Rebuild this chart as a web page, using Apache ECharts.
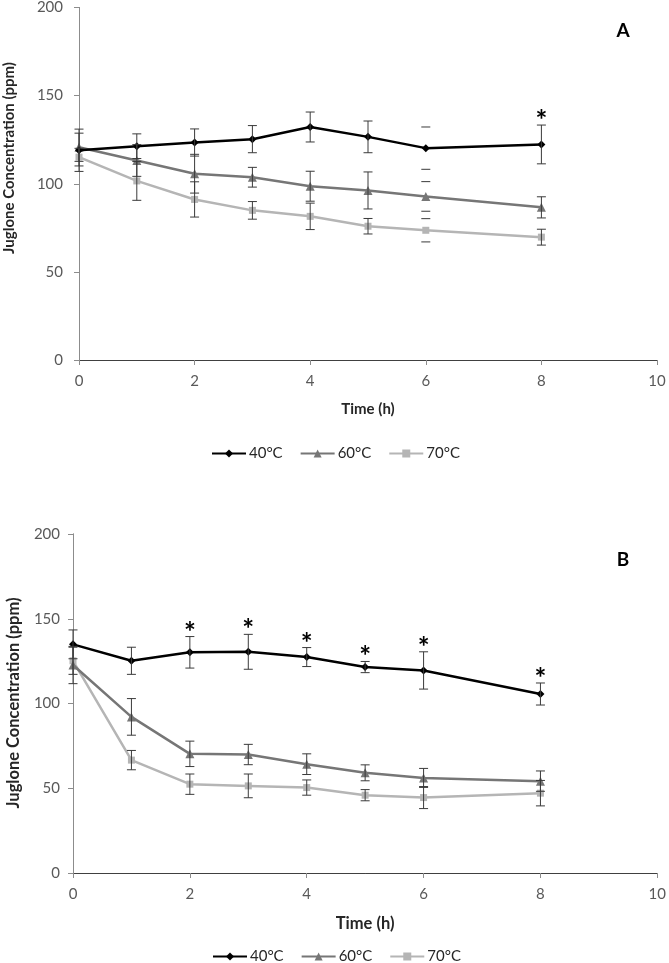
<!DOCTYPE html>
<html>
<head>
<meta charset="utf-8">
<script src="https://cdn.jsdelivr.net/npm/echarts@6/dist/echarts.min.js"></script>
<style>
html,body{margin:0;padding:0;background:#fff;}
#chart{width:669px;height:963px;}
</style>
</head>
<body>
<div id="chart"></div>
<script>
// ---- data ----
const times = [0, 1, 2, 3, 4, 5, 6, 8];
const seriesNames = ['40°C', '60°C', '70°C'];

// Panel A
const a40 = [119, 121.3, 123.4, 125.3, 132.2, 126.6, 120.2, 122.3];
const a40Err = [12, 7, 7.7, 7.7, 8.5, 9, 12, 11];
const a60 = [120.7, 113.2, 105.7, 103.7, 98.6, 96.2, 92.8, 86.6];
const a60Err = [8, 9, 11, 5.6, 8.5, 10.5, 8.4, 6];
const a70 = [115.1, 101.6, 91.1, 84.9, 81.5, 75.9, 73.6, 69.7];
const a70Err = [5, 11, 10, 5, 7.5, 4.4, 6.6, 4.5];
const aStarTimes = [8];
const aCapOnlyTimes = [6];

// Panel B
const b40 = [134.9, 125.2, 130.2, 130.5, 127.4, 121.5, 119.5, 105.6];
const b40Err = [8.5, 8, 9.3, 10.3, 5.6, 3.3, 11, 6.5];
const b60 = [122.7, 92.1, 70.3, 69.9, 64.2, 59.1, 56.1, 54.2];
const b60Err = [11, 10.8, 7.5, 6, 6.1, 4.7, 5.6, 6];
const b70 = [125.2, 66.6, 52.4, 51.4, 50.4, 45.9, 44.5, 47.1];
const b70Err = [8, 5.7, 6, 7, 4.5, 3.3, 6.5, 7.5];
const bStarTimes = [2, 3, 4, 5, 6, 8];
const bCapOnlyTimes = [];

const panelLabels = ['A', 'B'];
const xTicks = {min: 0, max: 10, interval: 2};
const yTicks = {min: 0, max: 200, interval: 50};
const xTitle = 'Time (h)';
const yTitle = 'Juglone Concentration (ppm)';

// ---- styles ----
const colors = ['#000000', '#767676', '#b5b5b5'];
const symbols = ['diamond', 'triangle', 'rect'];
const symbolSizes = [8, 9, 7];
const FONT = 'Lato, "Open Sans", sans-serif';

const chart = echarts.init(document.getElementById('chart'), null, {renderer: 'canvas'});

const panels = [
  {vals: [a40, a60, a70], errs: [a40Err, a60Err, a70Err], stars: aStarTimes, capOnly: aCapOnlyTimes,
   grid: {left: 79, top: 5, width: 578, height: 355}, tickFont: 15, titleFont: 15,
   yLabelMargin: 16, yTitlePos: [9, 158], xNameGap: 42},
  {vals: [b40, b60, b70], errs: [b40Err, b60Err, b70Err], stars: bStarTimes, capOnly: bCapOnlyTimes,
   grid: {left: 73, top: 534, width: 586, height: 339}, tickFont: 15, titleFont: 16.5,
   yLabelMargin: 13, yTitlePos: [14, 703], xNameGap: 42}
];

const grids = [], xAxes = [], yAxes = [], series = [], graphics = [];

panels.forEach((p, pi) => {
  grids.push(Object.assign({containLabel: false}, p.grid));
  // bottom x axis
  xAxes.push({
    type: 'value', gridIndex: pi, min: xTicks.min, max: xTicks.max, interval: xTicks.interval,
    position: 'bottom',
    name: xTitle, nameLocation: 'middle', nameGap: p.xNameGap,
    nameTextStyle: {fontFamily: FONT, fontWeight: 'bold', fontSize: p.titleFont, color: '#262626'},
    axisLine: {lineStyle: {color: '#8c8c8c', width: 1}},
    axisTick: {show: true, inside: false, length: 5, lineStyle: {color: '#8c8c8c'}},
    axisLabel: {fontFamily: FONT, fontSize: p.tickFont, color: '#595959', margin: 14},
    splitLine: {show: false}
  });
  // top border
  xAxes.push({
    type: 'value', gridIndex: pi, min: xTicks.min, max: xTicks.max, position: 'top',
    axisLine: {lineStyle: {color: '#404040', width: 1}},
    axisTick: {show: false}, axisLabel: {show: false}, splitLine: {show: false}
  });
  yAxes.push({
    type: 'value', gridIndex: pi, min: yTicks.min, max: yTicks.max, interval: yTicks.interval,
    position: 'left',
    axisLine: {show: true, lineStyle: {color: '#8c8c8c', width: 1}},
    axisTick: {show: true, inside: false, length: 5, lineStyle: {color: '#8c8c8c'}},
    axisLabel: {fontFamily: FONT, fontSize: p.tickFont, color: '#595959', margin: p.yLabelMargin},
    splitLine: {show: false}
  });
  // right border
  yAxes.push({
    type: 'value', gridIndex: pi, min: yTicks.min, max: yTicks.max, position: 'right',
    axisLine: {show: true, lineStyle: {color: '#8c8c8c', width: 1}},
    axisTick: {show: false}, axisLabel: {show: false}, splitLine: {show: false}
  });

  graphics.push({
    type: 'text', x: p.yTitlePos[0], y: p.yTitlePos[1], rotation: Math.PI / 2,
    style: {text: yTitle, font: 'bold ' + p.titleFont + 'px ' + FONT, fill: '#262626',
            align: 'center', verticalAlign: 'middle'}
  });
  graphics.push({
    type: 'text', x: 623, y: p.grid.top + 26, 
    style: {text: panelLabels[pi], font: 'bold 19px ' + FONT, fill: '#000', align: 'center', verticalAlign: 'middle'}
  });

  const xi = pi * 2, yi = pi * 2;

  p.vals.forEach((vals, si) => {
    series.push({
      name: seriesNames[si], type: 'line', xAxisIndex: xi, yAxisIndex: yi,
      data: times.map((t, k) => [t, vals[k]]),
      symbol: symbols[si], symbolSize: symbolSizes[si], showSymbol: true,
      lineStyle: {color: colors[si], width: 2.5},
      itemStyle: {color: colors[si]},
      z: 2 + (2 - si), animation: false
    });
  });

  // error bars
  p.vals.forEach((vals, si) => {
    const errs = p.errs[si];
    series.push({
      type: 'custom', xAxisIndex: xi, yAxisIndex: yi, z: 6, silent: true, animation: false,
      data: times.map((t, k) => [t, vals[k] - errs[k], vals[k] + errs[k], p.capOnly.indexOf(t) >= 0 ? 0 : 1]),
      renderItem: function (params, api) {
        const t = api.value(0);
        const lo = api.coord([t, api.value(1)]);
        const hi = api.coord([t, api.value(2)]);
        const w = 4.5;
        const st = {stroke: '#3a3a3a', lineWidth: 1};
        const ch = [
          {type: 'line', shape: {x1: hi[0] - w, y1: hi[1], x2: hi[0] + w, y2: hi[1]}, style: st},
          {type: 'line', shape: {x1: lo[0] - w, y1: lo[1], x2: lo[0] + w, y2: lo[1]}, style: st}
        ];
        if (api.value(3)) ch.push({type: 'line', shape: {x1: hi[0], y1: hi[1], x2: lo[0], y2: lo[1]}, style: st});
        return {type: 'group', children: ch};
      }
    });
  });

  // significance asterisks above 40°C error bars
  series.push({
    type: 'custom', xAxisIndex: xi, yAxisIndex: yi, z: 7, silent: true, animation: false,
    data: p.stars.map(t => { const k = times.indexOf(t); return [t, p.vals[0][k] + p.errs[0][k]]; }),
    renderItem: function (params, api) {
      const c = api.coord([api.value(0), api.value(1)]);
      return {type: 'text', x: c[0], y: c[1] + 10,
        style: {text: '*', font: 'bold 28px ' + FONT, fill: '#000', align: 'center', verticalAlign: 'bottom'}};
    }
  });
});

const legendBase = {
  data: seriesNames, orient: 'horizontal', itemWidth: 34, itemHeight: 10, itemGap: 17,
  textStyle: {fontFamily: FONT, fontSize: 15, color: '#262626', padding: [0, 0, 0, -2]},
  selectedMode: false, padding: 0
};

chart.setOption({
  backgroundColor: '#ffffff',
  animation: false,
  grid: grids,
  xAxis: xAxes,
  yAxis: yAxes,
  legend: [
    Object.assign({left: 211, top: 446}, legendBase),
    Object.assign({left: 212, top: 949}, legendBase)
  ],
  graphic: graphics,
  series: series
});
</script>
</body>
</html>
